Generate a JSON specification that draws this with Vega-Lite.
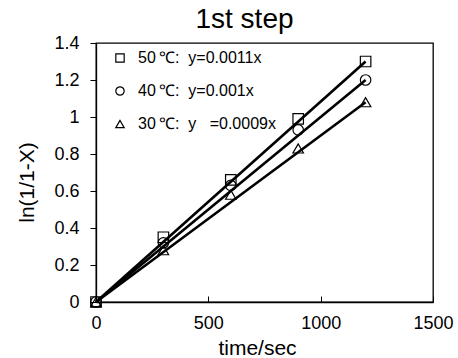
{
  "$schema": "https://vega.github.io/schema/vega-lite/v6.json",
  "width": 337,
  "height": 259,
  "autosize": {"type": "none"},
  "padding": {"left": 96, "top": 43, "right": 25, "bottom": 56},
  "background": "white",
  "config": {
    "font": "Liberation Sans",
    "view": {"stroke": "black", "strokeWidth": 1.3},
    "axis": {"grid": false, "domainColor": "black", "tickColor": "black", "labelColor": "black", "titleColor": "black", "labelFontSize": 18, "titleFontSize": 21, "titleFontWeight": "normal", "domainWidth": 1.3, "labelOverlap": false, "labelFlush": false}
  },
  "title": {"text": "1st step", "fontSize": 28, "fontWeight": "normal", "color": "black", "offset": 0, "anchor": "middle", "dx": -20},
  "datasets": {
    "pts": [
      {"temp": "50", "t": 0, "v": 0},
      {"temp": "50", "t": 300, "v": 0.35},
      {"temp": "50", "t": 600, "v": 0.66},
      {"temp": "50", "t": 900, "v": 0.99},
      {"temp": "50", "t": 1200, "v": 1.30},
      {"temp": "40", "t": 0, "v": 0},
      {"temp": "40", "t": 300, "v": 0.32},
      {"temp": "40", "t": 600, "v": 0.63},
      {"temp": "40", "t": 900, "v": 0.93},
      {"temp": "40", "t": 1200, "v": 1.20},
      {"temp": "30", "t": 0, "v": 0},
      {"temp": "30", "t": 300, "v": 0.28},
      {"temp": "30", "t": 600, "v": 0.58},
      {"temp": "30", "t": 900, "v": 0.83},
      {"temp": "30", "t": 1200, "v": 1.08}
    ],
    "fits": [
      {"temp": "50", "t": 0, "v": 0},
      {"temp": "50", "t": 1200, "v": 1.30},
      {"temp": "40", "t": 0, "v": 0},
      {"temp": "40", "t": 1200, "v": 1.20},
      {"temp": "30", "t": 0, "v": 0},
      {"temp": "30", "t": 1200, "v": 1.08}
    ]
  },
  "encoding": {
    "x": {
      "field": "t", "type": "quantitative",
      "scale": {"domain": [0, 1500], "nice": false},
      "axis": {"values": [0, 500, 1000, 1500], "format": "d", "title": "time/sec", "tickSize": -6, "labelPadding": 18, "titlePadding": 5, "titleX": 161}
    },
    "y": {
      "field": "v", "type": "quantitative",
      "scale": {"domain": [0, 1.4], "nice": false},
      "axis": {"values": [0, 0.2, 0.4, 0.6, 0.8, 1, 1.2, 1.4], "format": "~g", "title": "ln(1/1-X)", "tickSize": 6, "labelPadding": 11, "titlePadding": 16, "titleY": 139}
    }
  },
  "layer": [
    {
      "data": {"name": "fits"},
      "mark": {"type": "line", "color": "black", "strokeWidth": 2.6},
      "encoding": {
        "detail": {"field": "temp"}
      }
    },
    {
      "data": {"name": "pts"},
      "mark": {"type": "point", "filled": false, "stroke": "black", "strokeWidth": 1.2, "size": 110, "opacity": 1},
      "encoding": {
        "shape": {
          "field": "temp", "type": "nominal",
          "scale": {"domain": ["50", "40", "30"], "range": ["square", "circle", "triangle-up"]},
          "legend": {
            "orient": "none", "legendX": 16, "legendY": 7, "title": null,
            "labelExpr": "datum.value == '50' ? '50\u2009℃:\u00a0\u00a0y=0.0011x' : datum.value == '40' ? '40\u2009℃:\u00a0\u00a0y=0.001x' : '30\u2009℃:\u00a0\u00a0y\u00a0\u00a0\u00a0=0.0009x'",
            "labelFontSize": 16, "labelColor": "black", "symbolStrokeColor": "black", "symbolFillColor": "transparent",
            "symbolSize": 70, "symbolStrokeWidth": 1.2, "rowPadding": 17, "labelOffset": 10, "labelLimit": 300
          }
        }
      }
    }
  ]
}
